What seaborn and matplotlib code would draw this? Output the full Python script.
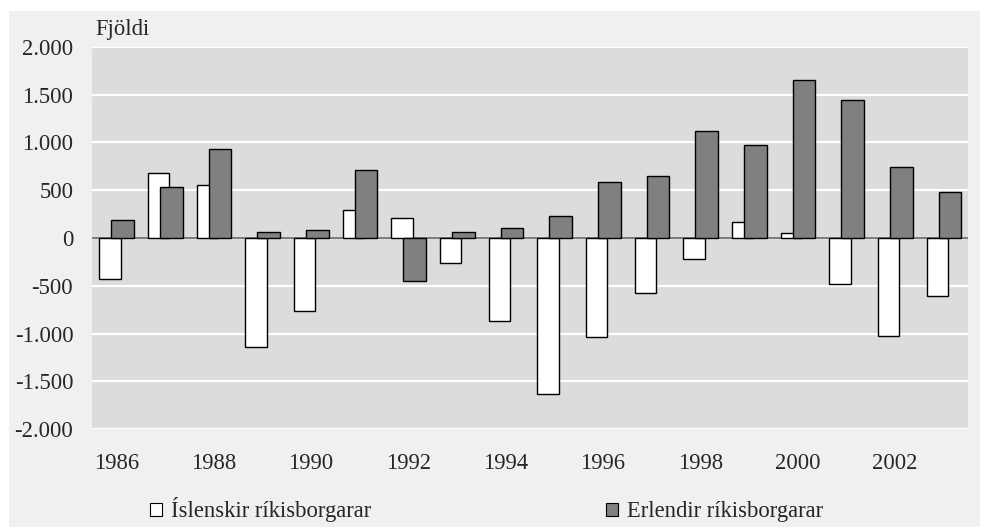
import matplotlib
matplotlib.use("Agg")
import matplotlib.pyplot as plt
from matplotlib.patches import Rectangle, Patch
import seaborn as sns
import pandas as pd

years = list(range(1986, 2004))
islenskir = [-430, 680, 550, -1140, -760, 290, 205, -260, -865, -1630,
             -1040, -570, -215, 165, 55, -480, -1020, -610]
erlendir = [190, 530, 935, 60, 80, 715, -450, 60, 100, 225,
            590, 650, 1120, 970, 1650, 1440, 740, 480]
series_names = ["Íslenskir ríkisborgarar", "Erlendir ríkisborgarar"]
ytick_values = [-2000, -1500, -1000, -500, 0, 500, 1000, 1500, 2000]
xtick_years = list(range(1986, 2003, 2))
y_label = "Fjöldi"

sns.set_theme(style="white")
plt.rcParams["font.family"] = ["Liberation Serif", "DejaVu Serif"]
FS = 16.3

fig = plt.figure(figsize=(9.81, 5.29), dpi=100, facecolor="white")
fig.patches.append(Rectangle((9 / 981, 2 / 529), 971 / 981, 516 / 529,
                             transform=fig.transFigure, facecolor="#f0f0f0",
                             edgecolor="none", zorder=-10))
ax = fig.add_axes([92 / 981, 99.7 / 529, 876 / 981, 382.6 / 529])
ax.set_facecolor("#dcdcdc")

off = 0.13
df_a = pd.DataFrame({"x": [y - off for y in years], "v": islenskir})
df_b = pd.DataFrame({"x": [y + off for y in years], "v": erlendir})
sns.barplot(data=df_a, x="x", y="v", native_scale=True, width=0.44,
            color="white", saturation=1, edgecolor="black", linewidth=1,
            errorbar=None, ax=ax, zorder=3)
sns.barplot(data=df_b, x="x", y="v", native_scale=True, width=0.46,
            color="#808080", saturation=1, edgecolor="black", linewidth=1,
            errorbar=None, ax=ax, zorder=4)

ax.set_ylim(-2000, 2000)
ax.set_xlim(1985.5, 2003.5)
ax.set_yticks(ytick_values)
ax.set_yticklabels([f"{v:,}".replace(",", ".") for v in ytick_values], fontsize=FS)
ax.set_xticks(xtick_years)
ax.set_xticklabels([str(y) for y in xtick_years], fontsize=FS)
ax.tick_params(axis="y", length=0, pad=13.5)
ax.tick_params(axis="x", length=0, pad=17)
ax.set_xlabel("")
ax.set_ylabel("")
for s in ax.spines.values():
    s.set_visible(False)
ax.grid(axis="y", color="white", linewidth=1.6)
ax.grid(axis="x", visible=False)
ax.set_axisbelow(True)
ax.axhline(0, color="#707070", linewidth=1.3, zorder=2.5)

fig.text(95 / 981, 1 - 29 / 529, y_label, fontsize=FS, va="center", ha="left")

handles = [Patch(facecolor="white", edgecolor="black", linewidth=0.8),
           Patch(facecolor="#808080", edgecolor="black", linewidth=0.8)]
fig.legend(handles, series_names, loc="center left",
           bbox_to_anchor=(150 / 981, 1 - 510 / 529), ncol=2, frameon=False,
           fontsize=FS, handlelength=0.53, handleheight=0.53, handletextpad=0.4,
           columnspacing=10.35, borderpad=0, borderaxespad=0)

fig.savefig("out.png", dpi=100, facecolor="white")
